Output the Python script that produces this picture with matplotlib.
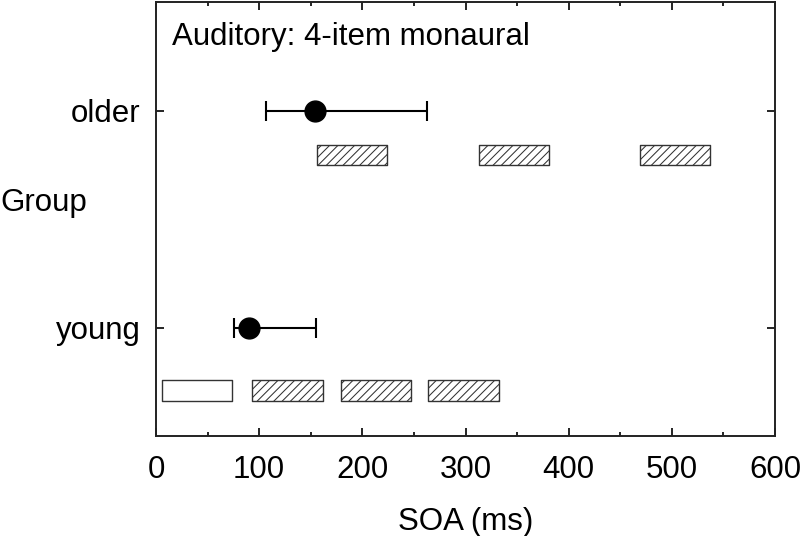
import matplotlib
matplotlib.use("Agg")
import matplotlib.pyplot as plt
from matplotlib.ticker import MultipleLocator

plt.rcParams['font.family'] = ['Liberation Sans', 'DejaVu Sans']
plt.rcParams['hatch.linewidth'] = 0.75

groups = ["young", "older"]
group_pos = [1, 2]
mean_soa = [90, 154]
err_low = [76, 107]
err_high = [155, 263]

# bar segments (start, width) per group; first young bar is open (unhatched)
young_bars = [(6, 68), (93, 69), (179, 68), (264, 68)]
young_hatched = [False, True, True, True]
older_bars = [(156, 68), (313, 68), (469, 68)]
older_hatched = [True, True, True]
bar_offset = [-0.29, -0.205]
bar_height = 0.093

fig = plt.figure(figsize=(8, 5.36), dpi=100)
ax = fig.add_axes([156/800, 1-436/536, (775-156)/800, (436-2)/536])

for gi, (bars, hatched) in enumerate([(young_bars, young_hatched), (older_bars, older_hatched)]):
    yc = group_pos[gi] + bar_offset[gi]
    for (s, w), h in zip(bars, hatched):
        ax.broken_barh([(s, w)], (yc - bar_height/2, bar_height),
                       facecolors='white', edgecolors='#333333', linewidth=1.0,
                       hatch='////' if h else None)

xerr = [[m - l for m, l in zip(mean_soa, err_low)], [h - m for m, h in zip(mean_soa, err_high)]]
ax.errorbar(mean_soa, group_pos, xerr=xerr, fmt='o', color='black', markersize=15,
            capsize=7, elinewidth=1.5, capthick=1.5, zorder=5)

ax.set_xlim(0, 600)
ax.set_ylim(0.5, 2.5)
ax.set_yticks(group_pos)
ax.set_yticklabels(groups)
ax.xaxis.set_major_locator(MultipleLocator(100))
ax.xaxis.set_minor_locator(MultipleLocator(50))
ax.tick_params(axis='both', which='major', direction='in', length=6, width=1.2,
               labelsize=22.5, top=True, right=True)
ax.tick_params(axis='x', which='major', pad=13.5)
ax.tick_params(axis='y', which='major', pad=11)
ax.tick_params(axis='x', which='minor', direction='in', length=3, width=1.2, top=True)
for s in ax.spines.values():
    s.set_linewidth(1.4)
    s.set_color('#222222')

ax.set_xlabel("SOA (ms)", fontsize=22.5, labelpad=16)
ax.text(0.026, 0.90, "Auditory: 4-item monaural", transform=ax.transAxes,
        fontsize=22.5, ha='left', va='baseline')
fig.text(0.0, 1 - 211/536, "Group", fontsize=22.5, ha='left', va='baseline')

fig.savefig("out.png", dpi=100)
